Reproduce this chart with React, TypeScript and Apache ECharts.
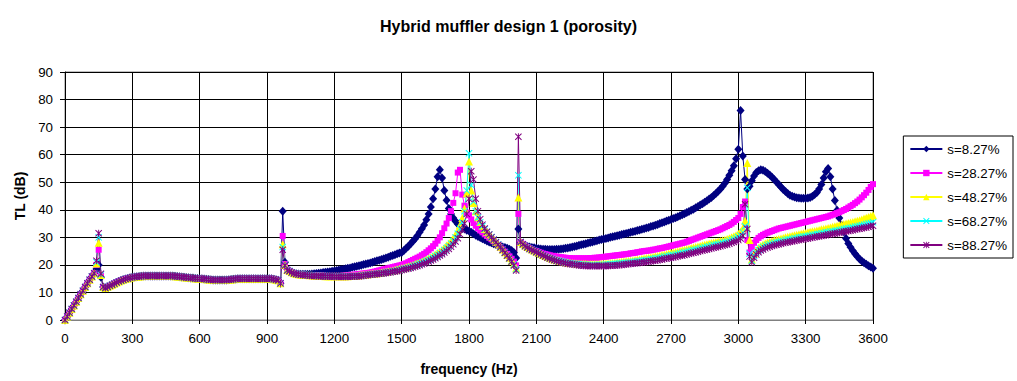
import React, { useEffect, useRef } from "react";
import * as echarts from "echarts";

const chartTitle = "Hybrid muffler design 1 (porosity)";
const xAxisName = "frequency (Hz)";
const yAxisName = "TL (dB)";
const seriesNames = ["s=8.27%", "s=28.27%", "s=48.27%", "s=68.27%", "s=88.27%"];
const seriesColors = ["#000080", "#FF00FF", "#FFFF00", "#00FFFF", "#800080"];

// sampling grid: 0..3600 Hz, 10 Hz apart
const frequencies: number[] = Array.from({ length: 361 }, (_, i) => i * 10);

// shared low-frequency values (all porosities overlap there)
const low0to90 = [0, 1.3, 2.6, 4, 5.3, 6.6, 8, 9.3, 10.6, 12];
const low200to890 = [
  12.4, 12.8, 13.2, 13.6, 14, 14.3, 14.6, 14.9, 15.1, 15.3,
  15.5, 15.6, 15.7, 15.8, 15.9, 16, 16, 16, 16, 16,
  16, 16, 16, 16, 16, 16, 16, 16, 16, 15.9,
  15.8, 15.7, 15.6, 15.5, 15.4, 15.3, 15.2, 15.2, 15.1, 15.1,
  15, 15, 14.9, 14.8, 14.7, 14.6, 14.5, 14.5, 14.5, 14.5,
  14.5, 14.5, 14.5, 14.6, 14.7, 14.8, 14.9, 15, 15, 15,
  15, 15, 15, 15, 15, 15, 15, 15, 15, 15,
];
const low900to950 = [15, 15, 15, 14.8, 14.6, 14.4];

const tl827 = [
  ...low0to90,
  13.3, 14.6, 15.8, 17, 18.5, 20, 15.5, 12, 11.6, 12,
  ...low200to890,
  ...low900to950, 13.3, 39.5, 21, 18.5,
  17.8, 17.3, 17, 16.8, 16.7, 16.6, 16.6, 16.6, 16.6, 16.6,
  16.7, 16.8, 16.9, 17, 17.1, 17.2, 17.3, 17.4, 17.5, 17.7,
  17.8, 18, 18.1, 18.3, 18.4, 18.6, 18.8, 18.9, 19.1, 19.3,
  19.5, 19.7, 19.9, 20.1, 20.3, 20.5, 20.7, 21, 21.2, 21.5,
  21.7, 22, 22.2, 22.5, 22.8, 23.1, 23.4, 23.7, 24, 24.3,
  24.5, 25.2, 26, 26.8, 27.7, 28.6, 29.5, 30.6, 31.8, 33.1,
  34.5, 36.4, 38.5, 41, 44, 47.5, 52, 54.5, 51.5, 47,
  43.5, 40.5, 38.5, 37, 35.8, 34.8, 34, 33.4, 33, 32.6,
  32.3, 31.8, 31.3, 30.8, 30.3, 29.9, 29.5, 29.1, 28.7, 28.3,
  28, 27.7, 27.4, 27.1, 26.8, 26.5, 26.3, 26, 25.7, 25.2,
  24.5, 22.5, 33, 28, 27.5, 27, 26.7, 26.5, 26.3, 26.2,
  26, 25.9, 25.8, 25.7, 25.7, 25.6, 25.6, 25.6, 25.6, 25.7,
  25.7, 25.8, 25.9, 26, 26.1, 26.3, 26.5, 26.7, 26.9, 27.1,
  27.3, 27.5, 27.7, 27.9, 28.1, 28.3, 28.6, 28.8, 29, 29.2,
  29.4, 29.6, 29.8, 30, 30.2, 30.4, 30.6, 30.8, 31, 31.2,
  31.4, 31.6, 31.8, 32, 32.2, 32.5, 32.7, 32.9, 33.1, 33.4,
  33.6, 33.9, 34.1, 34.4, 34.7, 35, 35.3, 35.6, 35.9, 36.2,
  36.5, 36.8, 37.1, 37.5, 37.8, 38.2, 38.6, 39, 39.4, 39.8,
  40.2, 40.7, 41.2, 41.7, 42.2, 42.7, 43.3, 43.9, 44.5, 45.2,
  45.9, 46.7, 47.5, 48.5, 49.6, 51, 52.5, 54.2, 56, 58.5,
  62, 76, 59.5, 51, 47.5, 48.5, 50.5, 52.3, 53.5, 54.2,
  54.5, 54.3, 53.9, 53.3, 52.6, 51.8, 51, 50.1, 49.2, 48.3,
  47.4, 46.6, 45.9, 45.3, 44.9, 44.6, 44.4, 44.3, 44.2, 44.2,
  44.2, 44.3, 44.5, 44.9, 45.5, 46.3, 47.5, 49.2, 51.5, 53.8,
  55, 52, 47.5, 43.4, 39.8, 37, 34.4, 32, 29.6, 27.8,
  26.4, 25.1, 24, 23, 22.1, 21.4, 20.8, 20.2, 19.7, 19.2,
  18.8,
];

const tl2827 = [
  ...low0to90,
  13.3, 14.6, 15.8, 17, 20, 25.5, 16, 12, 11.6, 12,
  ...low200to890,
  ...low900to950, 13.3, 30.5, 20.3, 18.3,
  17.8, 17.3, 17, 16.8, 16.6, 16.5, 16.4, 16.4, 16.3, 16.3,
  16.3, 16.2, 16.2, 16.1, 16.1, 16.1, 16, 16, 16, 16,
  16, 16, 16, 16, 16.1, 16.1, 16.2, 16.3, 16.4, 16.5,
  16.6, 16.7, 16.8, 16.9, 17, 17.1, 17.2, 17.4, 17.6, 17.8,
  18, 18.2, 18.4, 18.6, 18.8, 19, 19.2, 19.4, 19.6, 19.8,
  20, 20.3, 20.6, 21, 21.4, 21.8, 22.2, 22.6, 23, 23.5,
  24, 24.6, 25.3, 26, 26.8, 27.7, 28.8, 30, 31.5, 33.3,
  35, 37, 39.5, 42.5, 46, 53.5, 54.5, 45.5, 41.5, 39,
  38, 36.5, 35.2, 34.2, 33.3, 32.5, 31.8, 31.1, 30.5, 29.9,
  29.3, 28.6, 27.9, 27.2, 26.4, 25.6, 24.8, 24, 23.1, 22.2,
  21.2, 19.8, 38.5, 28.3, 27.6, 27, 26.5, 26, 25.6, 25.2,
  25, 24.7, 24.4, 24.1, 23.9, 23.7, 23.5, 23.3, 23.2, 23,
  22.9, 22.8, 22.7, 22.6, 22.5, 22.5, 22.4, 22.4, 22.4, 22.4,
  22.4, 22.4, 22.4, 22.4, 22.5, 22.5, 22.6, 22.6, 22.7, 22.8,
  22.9, 23, 23.1, 23.2, 23.3, 23.4, 23.5, 23.6, 23.7, 23.8,
  23.9, 24, 24.2, 24.3, 24.4, 24.6, 24.7, 24.9, 25, 25.1,
  25.2, 25.3, 25.5, 25.6, 25.8, 26, 26.1, 26.3, 26.5, 26.7,
  26.9, 27.1, 27.3, 27.5, 27.7, 27.9, 28.1, 28.4, 28.7, 29,
  29.3, 29.6, 29.9, 30.2, 30.5, 30.8, 31.1, 31.4, 31.7, 32,
  32.3, 32.6, 32.9, 33.3, 33.7, 34.1, 34.5, 35, 35.6, 36.3,
  37, 38.5, 41, 43, 29, 24.5, 26.5, 28, 29, 29.8,
  30.4, 30.9, 31.3, 31.7, 32, 32.3, 32.6, 32.9, 33.2, 33.4,
  33.6, 33.8, 34, 34.2, 34.4, 34.6, 34.8, 35, 35.2, 35.4,
  35.6, 35.8, 36, 36.2, 36.4, 36.6, 36.8, 37, 37.2, 37.4,
  37.6, 37.9, 38.2, 38.5, 38.8, 39.1, 39.5, 39.9, 40.3, 40.8,
  41.3, 41.8, 42.4, 43, 43.7, 44.5, 45.3, 46.2, 47.2, 48.3,
  49.3,
];

const tl4827 = [
  ...low0to90,
  13.3, 14.6, 15.8, 17, 20.5, 28, 16.3, 12, 11.6, 12,
  ...low200to890,
  ...low900to950, 13.3, 27.5, 20, 18.2,
  17.8, 17.3, 17, 16.8, 16.6, 16.5, 16.4, 16.3, 16.3, 16.2,
  16.2, 16.1, 16.1, 16, 16, 16, 15.9, 15.9, 15.9, 15.9,
  15.9, 15.9, 15.9, 15.9, 15.9, 15.9, 15.9, 16, 16, 16,
  16.1, 16.2, 16.3, 16.4, 16.5, 16.6, 16.7, 16.8, 16.9, 17,
  17.1, 17.2, 17.4, 17.5, 17.7, 17.8, 18, 18.2, 18.4, 18.6,
  18.8, 19, 19.2, 19.4, 19.7, 20, 20.3, 20.6, 20.9, 21.2,
  21.6, 22, 22.4, 22.8, 23.3, 23.8, 24.3, 24.9, 25.5, 26.2,
  27, 27.8, 28.8, 29.8, 31, 32.5, 34.5, 37, 40.5, 46,
  57.5, 47, 42.5, 39.5, 37.3, 35.6, 34.2, 33, 32, 31.1,
  30.2, 29.3, 28.4, 27.5, 26.6, 25.6, 24.6, 23.6, 22.6, 21.5,
  20.3, 18.8, 44.5, 28.3, 27.6, 27, 26.5, 26, 25.6, 25.2,
  24.8, 24.4, 24, 23.6, 23.2, 22.9, 22.6, 22.3, 22, 21.8,
  21.6, 21.4, 21.2, 21, 20.9, 20.8, 20.7, 20.6, 20.5, 20.5,
  20.4, 20.4, 20.4, 20.3, 20.3, 20.3, 20.3, 20.3, 20.3, 20.4,
  20.4, 20.5, 20.5, 20.6, 20.7, 20.8, 20.9, 21, 21.1, 21.2,
  21.3, 21.4, 21.5, 21.6, 21.8, 21.9, 22, 22.2, 22.3, 22.5,
  22.6, 22.8, 22.9, 23.1, 23.2, 23.4, 23.6, 23.7, 23.9, 24.1,
  24.3, 24.5, 24.7, 24.9, 25.1, 25.3, 25.5, 25.7, 25.9, 26.1,
  26.3, 26.5, 26.7, 26.9, 27.1, 27.3, 27.5, 27.7, 27.9, 28.1,
  28.3, 28.5, 28.7, 28.9, 29.1, 29.4, 29.7, 30, 30.4, 30.8,
  31.3, 32, 33.3, 36, 57, 29, 22, 24, 25.3, 26.2,
  26.9, 27.4, 27.8, 28.1, 28.4, 28.7, 29, 29.2, 29.4, 29.6,
  29.8, 30, 30.2, 30.4, 30.6, 30.8, 30.9, 31.1, 31.3, 31.5,
  31.6, 31.8, 32, 32.2, 32.3, 32.5, 32.7, 32.9, 33, 33.2,
  33.4, 33.6, 33.8, 34, 34.2, 34.4, 34.6, 34.8, 35, 35.2,
  35.4, 35.6, 35.8, 36, 36.2, 36.5, 36.8, 37.1, 37.4, 37.7,
  38,
];

const tl6827 = [
  ...low0to90,
  13.3, 14.6, 15.8, 17, 21, 30, 16.5, 12, 11.6, 12,
  ...low200to890,
  ...low900to950, 13.3, 26.5, 20, 18.1,
  17.8, 17.3, 17, 16.8, 16.6, 16.5, 16.4, 16.3, 16.3, 16.2,
  16.2, 16.1, 16.1, 16, 16, 16, 15.9, 15.9, 15.9, 15.9,
  15.8, 15.8, 15.8, 15.8, 15.8, 15.8, 15.8, 15.9, 15.9, 15.9,
  16, 16, 16.1, 16.2, 16.3, 16.4, 16.5, 16.6, 16.7, 16.8,
  16.9, 17, 17.1, 17.2, 17.4, 17.5, 17.7, 17.8, 18, 18.2,
  18.4, 18.6, 18.8, 19, 19.2, 19.5, 19.8, 20.1, 20.4, 20.7,
  21, 21.4, 21.8, 22.2, 22.6, 23.1, 23.6, 24.1, 24.7, 25.3,
  26, 26.8, 27.7, 28.7, 29.9, 31.3, 33.1, 35.5, 39.5, 47,
  60.5, 49, 43, 39.5, 37.2, 35.5, 34.1, 32.9, 31.9, 31,
  30.1, 29.2, 28.3, 27.4, 26.5, 25.5, 24.5, 23.5, 22.4, 21.3,
  20.1, 18.3, 52.5, 28.3, 27.5, 26.9, 26.4, 25.9, 25.5, 25.1,
  24.7, 24.3, 23.9, 23.5, 23.1, 22.8, 22.5, 22.2, 21.9, 21.7,
  21.5, 21.3, 21.1, 20.9, 20.7, 20.6, 20.5, 20.4, 20.3, 20.2,
  20.1, 20.1, 20, 20, 20, 20, 20, 20, 20, 20,
  20, 20.1, 20.1, 20.2, 20.3, 20.4, 20.4, 20.5, 20.6, 20.7,
  20.8, 20.9, 21, 21.1, 21.2, 21.3, 21.4, 21.6, 21.7, 21.8,
  21.9, 22.1, 22.2, 22.4, 22.5, 22.7, 22.8, 23, 23.1, 23.3,
  23.5, 23.6, 23.8, 24, 24.2, 24.4, 24.6, 24.8, 25, 25.2,
  25.4, 25.6, 25.8, 26, 26.2, 26.4, 26.6, 26.8, 27, 27.2,
  27.4, 27.6, 27.8, 28, 28.2, 28.4, 28.7, 29, 29.3, 29.7,
  30.1, 30.7, 31.8, 34, 48, 24, 21.5, 23.3, 24.5, 25.4,
  26, 26.5, 26.9, 27.2, 27.5, 27.8, 28, 28.2, 28.4, 28.6,
  28.8, 29, 29.2, 29.3, 29.5, 29.7, 29.8, 30, 30.1, 30.3,
  30.4, 30.6, 30.7, 30.9, 31, 31.2, 31.3, 31.5, 31.6, 31.8,
  31.9, 32.1, 32.2, 32.4, 32.5, 32.7, 32.8, 33, 33.2, 33.3,
  33.5, 33.7, 33.9, 34, 34.2, 34.4, 34.6, 34.8, 35, 35.2,
  35.5,
];

const tl8827 = [
  ...low0to90,
  13.3, 14.6, 15.8, 17, 21.5, 31.5, 16.8, 12, 11.6, 12,
  ...low200to890,
  ...low900to950, 13.3, 25.5, 19.8, 18,
  17.7, 17.2, 16.9, 16.7, 16.5, 16.4, 16.3, 16.2, 16.2, 16.1,
  16.1, 16, 16, 15.9, 15.9, 15.9, 15.8, 15.8, 15.8, 15.8,
  15.7, 15.7, 15.7, 15.7, 15.7, 15.7, 15.7, 15.8, 15.8, 15.8,
  15.9, 15.9, 16, 16.1, 16.2, 16.3, 16.4, 16.5, 16.6, 16.7,
  16.8, 16.9, 17, 17.1, 17.2, 17.3, 17.5, 17.6, 17.8, 17.9,
  18.1, 18.3, 18.5, 18.7, 18.9, 19.1, 19.4, 19.6, 19.9, 20.2,
  20.5, 20.8, 21.2, 21.6, 22, 22.4, 22.9, 23.4, 23.9, 24.5,
  25.1, 25.8, 26.6, 27.5, 28.5, 29.7, 31.1, 32.8, 35, 38.5,
  44, 54, 51, 44, 39.5, 36.6, 34.6, 33.2, 32, 31,
  30, 29.1, 28.2, 27.3, 26.4, 25.4, 24.4, 23.4, 22.4, 21.2,
  19.8, 18, 66.5, 28.3, 27.5, 26.8, 26.3, 25.8, 25.4, 25,
  24.6, 24.2, 23.8, 23.4, 23, 22.6, 22.3, 22, 21.7, 21.4,
  21.2, 21, 20.8, 20.6, 20.4, 20.3, 20.2, 20.1, 20, 19.9,
  19.8, 19.7, 19.7, 19.6, 19.6, 19.6, 19.6, 19.6, 19.6, 19.6,
  19.6, 19.6, 19.7, 19.7, 19.8, 19.8, 19.9, 20, 20, 20.1,
  20.2, 20.3, 20.4, 20.5, 20.6, 20.7, 20.8, 20.9, 21, 21.1,
  21.2, 21.3, 21.5, 21.6, 21.7, 21.9, 22, 22.2, 22.3, 22.5,
  22.6, 22.8, 22.9, 23.1, 23.3, 23.4, 23.6, 23.8, 24, 24.2,
  24.4, 24.6, 24.8, 25, 25.2, 25.4, 25.6, 25.8, 26, 26.2,
  26.4, 26.6, 26.8, 27, 27.2, 27.4, 27.7, 28, 28.3, 28.6,
  29, 29.6, 30.6, 42, 33, 23, 21, 22.6, 23.8, 24.6,
  25.2, 25.6, 26, 26.3, 26.6, 26.9, 27.1, 27.3, 27.5, 27.7,
  27.9, 28.1, 28.2, 28.4, 28.6, 28.7, 28.9, 29, 29.2, 29.3,
  29.5, 29.6, 29.8, 29.9, 30.1, 30.2, 30.4, 30.5, 30.7, 30.8,
  31, 31.1, 31.3, 31.4, 31.6, 31.7, 31.9, 32, 32.2, 32.3,
  32.5, 32.6, 32.8, 33, 33.1, 33.3, 33.5, 33.6, 33.8, 34,
  34.2,
];

const seriesValues = [tl827, tl2827, tl4827, tl6827, tl8827];

const crossPath = "path://M0,1L1,0L5,4L9,0L10,1L6,5L10,9L9,10L5,6L1,10L0,9L4,5Z";
const starPath =
  "path://M0,1L1,0L5,4L9,0L10,1L6,5L10,9L9,10L5,6L1,10L0,9L4,5Z M4.35,0L5.65,0L5.65,10L4.35,10Z";
const seriesSymbols = ["diamond", "rect", "triangle", crossPath, starPath];
const seriesSymbolSizes: any[] = [[8, 9], 6, 8, 7, 7];

const FONT = "'Liberation Sans', Arial, sans-serif";

export default function App() {
  const ref = useRef<HTMLDivElement>(null);

  useEffect(() => {
    if (!ref.current) return;
    const chart = echarts.init(ref.current, null, { renderer: "svg" });
    const option: any = {
      animation: false,
      backgroundColor: "#ffffff",
      title: {
        text: chartTitle,
        left: "center",
        top: 13,
        textStyle: { fontFamily: FONT, fontSize: 16, fontWeight: "bold", color: "#000" },
      },
      legend: {
        orient: "vertical",
        right: 4,
        top: 136,
        backgroundColor: "#ffffff",
        borderColor: "#000000",
        borderWidth: 1,
        borderRadius: 0,
        padding: [6, 6, 6, 6],
        itemGap: 10,
        itemWidth: 32,
        itemHeight: 8,
        textStyle: { fontFamily: FONT, fontSize: 13.33, color: "#000", lineHeight: 14 },
        data: seriesNames,
      },
      grid: {
        left: 65,
        right: 144,
        top: 72,
        bottom: 58,
        show: true,
        borderColor: "#808080",
        borderWidth: 1,
        backgroundColor: "#ffffff",
        containLabel: false,
      },
      xAxis: {
        type: "value",
        min: 0,
        max: 3600,
        interval: 300,
        name: xAxisName,
        nameLocation: "middle",
        nameGap: 42,
        nameTextStyle: { fontFamily: FONT, fontSize: 14, fontWeight: "bold", color: "#000" },
        axisLine: { show: true, onZero: false, lineStyle: { color: "#808080", width: 1 } },
        axisTick: { show: true, length: 4, lineStyle: { color: "#000" } },
        axisLabel: {
          fontFamily: FONT,
          fontSize: 13.33,
          color: "#000",
          margin: 12,
          formatter: (v: number) => String(v),
        },
        splitLine: { show: true, lineStyle: { color: "#000", width: 1 } },
      },
      yAxis: {
        type: "value",
        min: 0,
        max: 90,
        interval: 10,
        name: yAxisName,
        nameLocation: "middle",
        nameGap: 38,
        nameTextStyle: { fontFamily: FONT, fontSize: 14, fontWeight: "bold", color: "#000" },
        axisLine: { show: true, lineStyle: { color: "#000", width: 1 } },
        axisTick: { show: true, length: 5, lineStyle: { color: "#000" } },
        axisLabel: {
          fontFamily: FONT,
          fontSize: 13.33,
          color: "#000",
          margin: 12,
          formatter: (v: number) => String(v),
        },
        splitLine: { show: true, lineStyle: { color: "#000", width: 1 } },
      },
      series: seriesNames.map((name, k) => ({
        name,
        type: "line",
        data: frequencies.map((f, i) => [f, seriesValues[k][i]]),
        symbol: seriesSymbols[k],
        symbolSize: seriesSymbolSizes[k],
        showSymbol: true,
        lineStyle: { color: seriesColors[k], width: 1 },
        itemStyle: { color: seriesColors[k], borderWidth: 0 },
        emphasis: { disabled: true },
        clip: true,
      })),
    };
    chart.setOption(option);
    return () => chart.dispose();
  }, []);

  return (
    <div
      ref={ref}
      style={{ position: "absolute", left: 0, top: 0, width: 1017, height: 381 }}
    />
  );
}
